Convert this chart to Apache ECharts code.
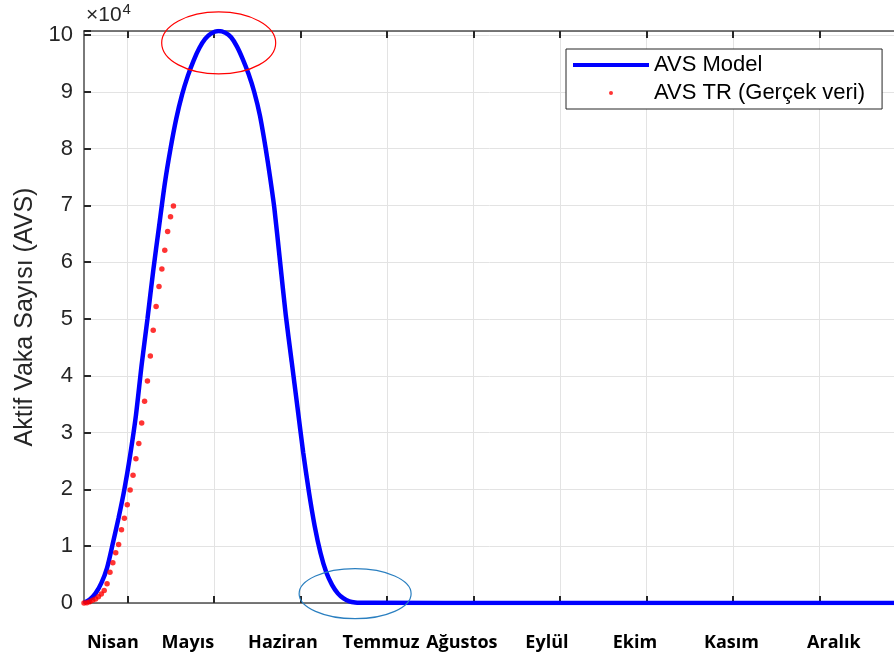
<!DOCTYPE html>
<html><head><meta charset="utf-8">
<script src="https://cdn.jsdelivr.net/npm/echarts@6/dist/echarts.min.js"></script>
<style>html,body{margin:0;padding:0;background:#fff}#c{width:894px;height:657px}</style>
</head><body><div id="c"></div>
<script>
// Month labels (x axis) and the day value each label sits at
const months = ['Nisan', 'Mayıs', 'Haziran', 'Temmuz', 'Ağustos', 'Eylül', 'Ekim', 'Kasım', 'Aralık'];
const monthLabelDays = [10, 36, 69, 103, 131, 160.5, 191, 224.5, 260];
// x tick positions (days)
const tickDays = [15, 45, 75, 105, 135, 165, 195, 225, 255];
const yTickStep = 10000;

// AVS Model curve (days, active cases)
const modelDays = [0, 2, 4, 6, 8, 10, 12, 14, 16, 18, 20, 22, 24, 26, 28, 30, 32, 34, 36, 38, 40, 42, 44, 46.6, 49, 51, 53, 55, 57, 59, 61, 63, 64.5, 66, 68, 70, 72, 74, 76, 78, 80, 82, 84, 86, 88, 90, 92, 94, 96, 100, 150, 285];
const modelValues = [0, 600, 1700, 3500, 6200, 10500, 15000, 20000, 26000, 33000, 42000, 50000, 58500, 66200, 73800, 80000, 85300, 89500, 92800, 95500, 97700, 99300, 100250, 100700, 100400, 99600, 98000, 95800, 93200, 90000, 85800, 80000, 75000, 69500, 60000, 50500, 42500, 34500, 26500, 19500, 13500, 8800, 5400, 3200, 1700, 800, 300, 100, 50, 30, 0, 0];

// AVS TR real data (days, active cases)
const trDays = [0, 1, 2, 3, 4, 5, 6, 7, 8, 9, 10, 11, 12, 13, 14, 15, 16, 17, 18, 19, 20, 21, 22, 23, 24, 25, 26, 27, 28, 29, 30, 31];
const trValues = [0, 50, 200, 500, 700, 1100, 1600, 2200, 3400, 5400, 7100, 8860, 10300, 12900, 14900, 17300, 19900, 22500, 25400, 28100, 31700, 35500, 39100, 43500, 48000, 52200, 55700, 58800, 62100, 65400, 68000, 69900];

const chart = echarts.init(document.getElementById('c'), null, {renderer: 'canvas'});
const axisCol = '#4d4d4d';
const tickCol = '#262626';
const option = {
  animation: false,
  backgroundColor: '#fff',
  grid: {left: 84, right: -12, top: 31, bottom: 54, outerBoundsMode: 'none'},
  legend: {
    orient: 'vertical', left: 566, top: 49,
    padding: [5, 17, 5, 7], itemGap: 6, itemWidth: 76, itemHeight: 4,
    backgroundColor: '#fff', borderColor: '#262626', borderWidth: 1, borderRadius: 0,
    textStyle: {fontFamily: 'Liberation Sans', fontSize: 22, color: '#000'},
    data: [{name: 'AVS Model', icon: 'rect'}, {name: 'AVS TR (Gerçek veri)', icon: 'circle'}]
  },
  xAxis: [{
    type: 'value', min: 0, max: 285, position: 'bottom',
    axisLine: {show: true, onZero: false, lineStyle: {color: axisCol, width: 1.5}},
    axisTick: {show: true, inside: true, length: 7, customValues: tickDays, lineStyle: {color: tickCol, width: 2}},
    splitLine: {show: true, lineStyle: {color: '#e3e3e3', width: 1}},
    axisLabel: {
      show: true, customValues: monthLabelDays, margin: 31,
      fontFamily: 'Open Sans', fontWeight: 'bold', fontSize: 18, color: '#000',
      formatter: v => months[monthLabelDays.indexOf(v)] || ''
    }
  }, {
    type: 'value', min: 0, max: 285, position: 'top',
    axisLine: {show: true, onZero: false, lineStyle: {color: axisCol, width: 1.5}},
    axisTick: {show: true, inside: true, length: 7, customValues: tickDays, lineStyle: {color: tickCol, width: 2}},
    splitLine: {show: false},
    axisLabel: {show: false}
  }],
  yAxis: {
    type: 'value', min: 0, max: 100700, interval: yTickStep,
    name: 'Aktif Vaka Sayısı (AVS)', nameLocation: 'middle', nameGap: 46, nameRotate: 90,
    nameTextStyle: {fontFamily: 'Liberation Sans', fontSize: 25, color: '#262626'},
    axisLine: {show: true, onZero: false, lineStyle: {color: axisCol, width: 1.5}},
    axisTick: {show: true, inside: true, length: 7, lineStyle: {color: tickCol, width: 2}},
    splitLine: {show: true, lineStyle: {color: '#e3e3e3', width: 1}},
    axisLabel: {
      fontFamily: 'Liberation Sans', fontSize: 22, color: '#262626', margin: 11,
      formatter: v => (v % yTickStep === 0 ? String(v / yTickStep) : '')
    }
  },
  series: [{
    name: 'AVS Model', type: 'line', xAxisIndex: 0,
    data: modelDays.map((d, i) => [d, modelValues[i]]),
    smooth: 0.25, showSymbol: false, symbol: 'none',
    lineStyle: {color: '#0000ff', width: 4.5},
    itemStyle: {color: '#0000ff'}, z: 3
  }, {
    name: 'AVS TR (Gerçek veri)', type: 'scatter', xAxisIndex: 0,
    data: trDays.map((d, i) => [d, trValues[i]]),
    symbol: 'circle', symbolSize: 5.5,
    itemStyle: {color: '#ff0000'}, z: 4, clip: false
  }]
};
chart.setOption(option);

const redC = chart.convertToPixel({xAxisIndex: 0, yAxisIndex: 0}, [46.7, 98600]);
const blueC = chart.convertToPixel({xAxisIndex: 0, yAxisIndex: 0}, [94, 1640]);
chart.setOption({
  graphic: [
    {type: 'ellipse', shape: {cx: redC[0], cy: redC[1], rx: 57, ry: 31},
      style: {fill: 'none', stroke: '#ff0000', lineWidth: 1.2}, z: 10},
    {type: 'ellipse', shape: {cx: blueC[0], cy: blueC[1], rx: 56, ry: 25},
      style: {fill: 'none', stroke: '#2a7fc0', lineWidth: 1.2}, z: 10},
    {type: 'text', left: 86, top: 2, z: 10,
      style: {text: '{a|×10}{b|4}', rich: {
        a: {fontFamily: 'Liberation Sans', fontSize: 21, fill: '#262626', verticalAlign: 'bottom'},
        b: {fontFamily: 'Liberation Sans', fontSize: 15, fill: '#262626', verticalAlign: 'top', padding: [0, 0, 9, 1]}
      }}}
  ]
});
</script></body></html>
